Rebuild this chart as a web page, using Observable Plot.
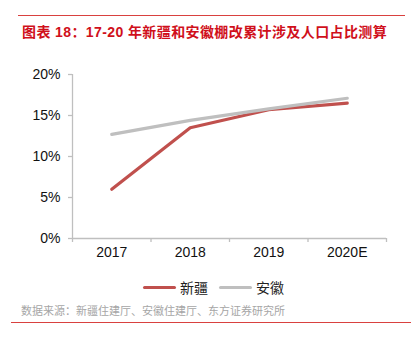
<!DOCTYPE html>
<html>
<head>
<meta charset="utf-8">
<script src="https://cdn.jsdelivr.net/npm/d3@7"></script>
<script src="https://cdn.jsdelivr.net/npm/@observablehq/plot@0.6"></script>
<style>
  html, body { margin: 0; padding: 0; background: #fff; }
  #wrap { position: relative; width: 411px; height: 341px; overflow: hidden; font-family: "Liberation Sans", Arial, "Noto Sans CJK SC", sans-serif; }
  #chart { position: absolute; left: 0; top: 0; }
  .hr { position: absolute; height: 0; border-top: 1.2px solid #d9413f; }
  #title { position: absolute; left: 22px; top: 21px; font-size: 14px; font-weight: bold; color: #d0101b; white-space: nowrap; font-family: "Liberation Sans", "Noto Sans CJK SC", sans-serif; letter-spacing: 0.4px; }
  #legend { position: absolute; top: 277px; left: 143px; font-size: 14px; color: #222; white-space: nowrap; font-family: "Noto Sans CJK SC", sans-serif; display: flex; align-items: center; }
  .sw { display: inline-block; width: 33px; height: 3px; border-radius: 2px; margin-right: 4px; }
  .item { display: flex; align-items: center; margin-right: 11px; }
  #source { position: absolute; left: 21px; top: 302px; font-size: 11px; color: #a6a6a6; white-space: nowrap; font-family: "Noto Sans CJK SC", sans-serif; }
</style>
</head>
<body>
<div id="wrap">
  <div class="hr" style="left:18px; width:387px; top:15px;"></div>
  <div id="title">图表 18：17-20 年新疆和安徽棚改累计涉及人口占比测算</div>
  <div id="chart"></div>
  <div id="legend"></div>
  <div id="source">数据来源：新疆住建厅、安徽住建厅、东方证券研究所</div>
  <div class="hr" style="left:11px; width:400px; top:322px;"></div>
</div>
<script>
const years = ["2017", "2018", "2019", "2020E"];
const seriesNames = ["新疆", "安徽"];
const xinjiang = [6.0, 13.5, 15.7, 16.5];
const anhui = [12.7, 14.4, 15.8, 17.1];
const yTicks = [0, 5, 10, 15, 20];
const colors = ["#c0504d", "#bfbfbf"];

const data = [];
years.forEach((y, i) => data.push({i, year: y, v: xinjiang[i], series: seriesNames[0]}));
years.forEach((y, i) => data.push({i, year: y, v: anhui[i], series: seriesNames[1]}));

const xDomain = [-0.5, years.length - 0.5];
const boundaries = d3.range(years.length + 1).map(k => k - 0.5);
const centers = d3.range(years.length);

const plot = Plot.plot({
  width: 411,
  height: 341,
  marginLeft: 72,
  marginRight: 25,
  marginTop: 74,
  marginBottom: 103,
  style: { fontFamily: "Liberation Sans, Arial, sans-serif", fontSize: "14px", color: "#000", background: "transparent" },
  x: { type: "linear", domain: xDomain, axis: null, label: null },
  y: { domain: [0, 20], axis: null, label: null },
  color: { domain: seriesNames, range: colors },
  marks: [
    Plot.axisY({ ticks: yTicks, tickFormat: d => d + "%", tickSize: 4, tickPadding: 8, stroke: "#bfbfbf", fill: "#111", strokeWidth: 1.3, label: null }),
    Plot.ruleX([xDomain[0]], { stroke: "#bfbfbf", strokeWidth: 1.3 }),
    Plot.ruleY([0], { stroke: "#bfbfbf", strokeWidth: 1.3 }),
    Plot.axisX({ ticks: boundaries, tickFormat: () => "", tickSize: 4, stroke: "#bfbfbf", strokeWidth: 1.3, label: null }),
    Plot.axisX({ ticks: centers, tickFormat: i => years[i], tickSize: 0, tickPadding: 9, fill: "#111", label: null }),
    Plot.line(data.filter(d => d.series === seriesNames[0]), { x: "i", y: "v", stroke: "series", strokeWidth: 3.2 }),
    Plot.line(data.filter(d => d.series === seriesNames[1]), { x: "i", y: "v", stroke: "series", strokeWidth: 3.2 })
  ]
});
document.getElementById("chart").appendChild(plot);

const legend = document.getElementById("legend");
seriesNames.forEach((s, k) => {
  const item = document.createElement("span");
  item.className = "item";
  const sw = document.createElement("span");
  sw.className = "sw";
  sw.style.background = colors[k];
  item.appendChild(sw);
  item.appendChild(document.createTextNode(s));
  legend.appendChild(item);
});
</script>
</body>
</html>
